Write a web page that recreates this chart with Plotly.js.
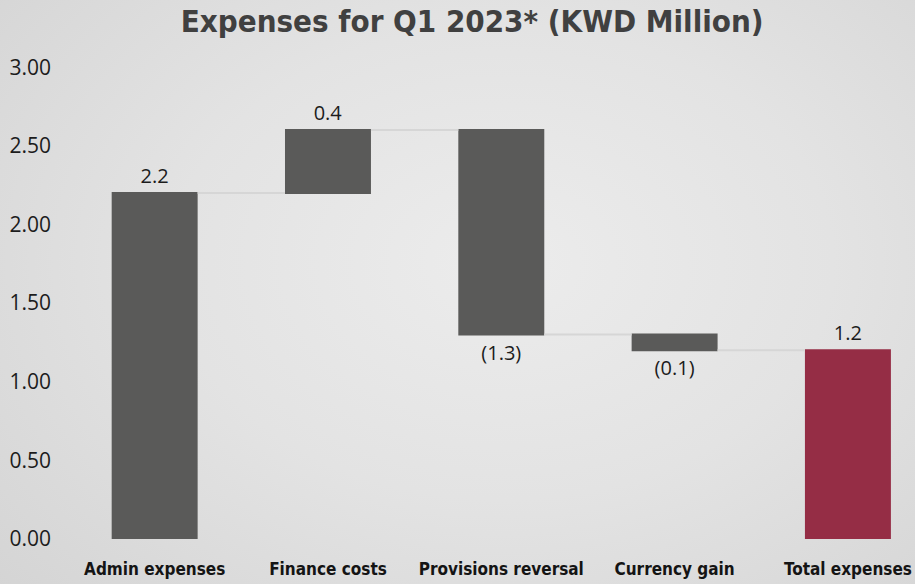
<!DOCTYPE html>
<html>
<head>
<meta charset="utf-8">
<script src="https://cdn.plot.ly/plotly-3.0.1.min.js"></script>
<style>
html,body{margin:0;padding:0;width:915px;height:584px;overflow:hidden;}
body{background: radial-gradient(ellipse 80% 90% at 55% 45%, #ececec 0%, #e3e3e3 45%, #d2d2d2 100%);}
#chart{width:915px;height:584px;}
</style>
</head>
<body>
<div id="chart"></div>
<script>
const categories = ["Admin expenses", "Finance costs", "Provisions reversal", "Currency gain", "Total expenses"];
const values = [2.2, 0.4, -1.3, -0.1, 1.2];
const measures = ["relative", "relative", "relative", "relative", "total"];
const valueLabels = ["2.2", "0.4", "(1.3)", "(0.1)", "1.2"];
const yTicks = [0, 0.5, 1.0, 1.5, 2.0, 2.5, 3.0];
const yTickLabels = ["0.00", "0.50", "1.00", "1.50", "2.00", "2.50", "3.00"];

const trace = {
  type: "waterfall",
  x: categories,
  y: values,
  measure: measures,
  text: valueLabels,
  textposition: "outside",
  textfont: {family: "Open Sans, sans-serif", size: 20, color: "#1c1c1c"},
  cliponaxis: false,
  increasing: {marker: {color: "#5a5a59"}},
  decreasing: {marker: {color: "#5a5a59"}},
  totals: {marker: {color: "#952d45"}},
  connector: {mode: "between", line: {color: "#d6d6d6", width: 2}},
  hoverinfo: "skip"
};

const layout = {
  width: 915, height: 584,
  margin: {l: 68, r: 0, t: 67, b: 45},
  paper_bgcolor: "rgba(0,0,0,0)",
  plot_bgcolor: "rgba(0,0,0,0)",
  showlegend: false,
  waterfallgap: 0.504,
  title: {
    text: "<b>Expenses for Q1 2023* (KWD Million)</b>",
    font: {family: "DejaVu Sans Condensed, sans-serif", size: 31, color: "#404040"},
    x: 0.516, xref: "container", xanchor: "center",
    y: 0.964, yref: "container", yanchor: "middle"
  },
  xaxis: {
    range: [-0.5, 4.387],
    showgrid: false, zeroline: false, showline: false,
    ticks: "",
    ticklabelstandoff: 18,
    tickfont: {family: "DejaVu Sans Condensed, sans-serif", size: 17, color: "#141414", weight: "bold"}
  },
  yaxis: {
    range: [0, 3.001],
    tickvals: yTicks,
    ticktext: yTickLabels,
    showgrid: false, zeroline: false, showline: false,
    ticks: "",
    ticklabelstandoff: 16,
    tickfont: {family: "Open Sans, sans-serif", size: 21, color: "#1c1c1c"}
  }
};

Plotly.newPlot("chart", [trace], layout, {displayModeBar: false, staticPlot: true});
</script>
</body>
</html>
